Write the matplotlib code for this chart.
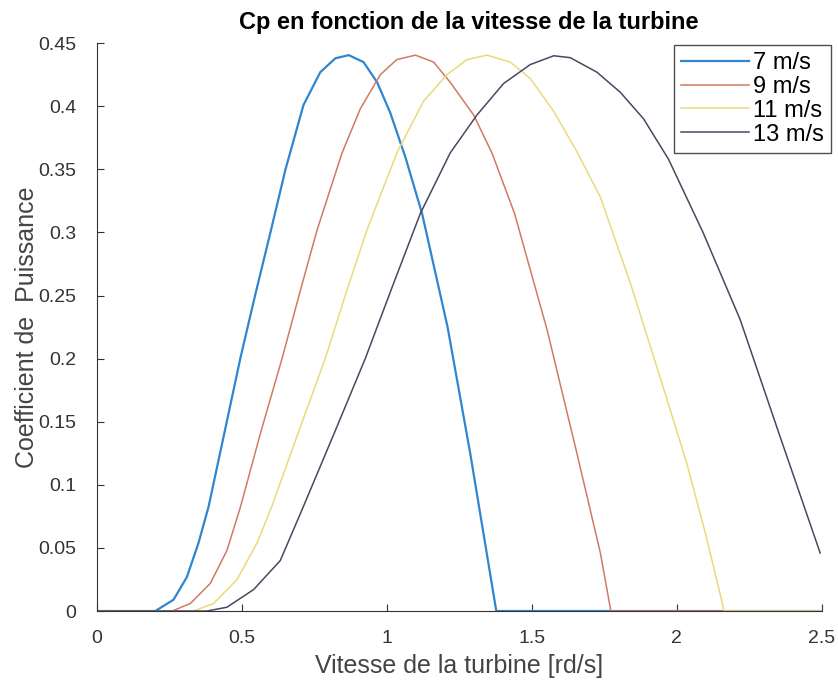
import numpy as np
import matplotlib
matplotlib.use('Agg')
import matplotlib.pyplot as plt
from matplotlib.ticker import FuncFormatter

plt.rcParams.update({
    'font.family': 'Liberation Sans', 'font.size': 13,
    'xtick.direction': 'in', 'ytick.direction': 'in',
})

# Cp curves (x in rd/s, y = Cp)
x_7 = [0, 0.201, 0.264, 0.310, 0.350, 0.385, 0.440, 0.494, 0.545, 0.598, 0.650,
       0.712, 0.770, 0.822, 0.868, 0.919, 0.966, 1.011, 1.063, 1.121, 1.209,
       1.287, 1.377, 2.5]
cp_7 = [0, 0, 0.009, 0.027, 0.054, 0.083, 0.142, 0.200, 0.250, 0.300, 0.350,
        0.401, 0.427, 0.438, 0.4405, 0.435, 0.419, 0.395, 0.360, 0.315, 0.225,
        0.125, 0, 0]

x_9 = [0, 0.259, 0.322, 0.391, 0.448, 0.494, 0.565, 0.638, 0.700, 0.759, 0.845,
       0.908, 0.977, 1.034, 1.098, 1.161, 1.218, 1.299, 1.362, 1.440, 1.552,
       1.655, 1.736, 1.772, 2.5]
cp_9 = [0, 0, 0.006, 0.022, 0.048, 0.082, 0.142, 0.200, 0.253, 0.302, 0.363,
        0.398, 0.425, 0.437, 0.4405, 0.435, 0.419, 0.393, 0.363, 0.315, 0.223,
        0.125, 0.046, 0, 0]

x_11 = [0, 0.333, 0.402, 0.483, 0.552, 0.603, 0.695, 0.787, 0.860, 0.931, 1.034,
        1.126, 1.207, 1.276, 1.345, 1.425, 1.494, 1.575, 1.655, 1.736, 1.839,
        1.879, 1.960, 2.034, 2.100, 2.163, 2.5]
cp_11 = [0, 0, 0.006, 0.025, 0.054, 0.083, 0.142, 0.200, 0.253, 0.302, 0.363,
         0.404, 0.425, 0.437, 0.4405, 0.435, 0.422, 0.396, 0.364, 0.328, 0.260,
         0.231, 0.172, 0.117, 0.060, 0, 0]

x_13 = [0, 0.379, 0.448, 0.540, 0.632, 0.712, 0.820, 0.925, 1.020, 1.115, 1.218,
        1.310, 1.402, 1.494, 1.575, 1.632, 1.724, 1.805, 1.885, 1.971, 2.090,
        2.218, 2.356, 2.494]
cp_13 = [0, 0, 0.003, 0.017, 0.040, 0.083, 0.142, 0.200, 0.258, 0.315, 0.363,
         0.393, 0.418, 0.433, 0.440, 0.4385, 0.427, 0.411, 0.390, 0.358, 0.300,
         0.231, 0.138, 0.046]

labels = ['7 m/s', '9 m/s', '11 m/s', '13 m/s']
colors = ['#2f86d0', '#cf7a62', '#ecd97a', '#4f4560']

fig = plt.figure(figsize=(8.38, 6.85), dpi=100)
ax = fig.add_axes([0.1158, 0.108, 0.865, 0.829])

series = [(x_7, cp_7), (x_9, cp_9), (x_11, cp_11), (x_13, cp_13)]
for (xs, ys), lab, c in zip(series, labels, colors):
    lw = 1.6 if lab == '7 m/s' else 1.1
    ax.plot(xs, ys, color=c, linewidth=lw, label=lab)

ax.set_xlim(0, 2.5)
ax.set_ylim(0, 0.45)
ax.set_xticks(np.arange(0, 2.51, 0.5))
ax.set_yticks(np.arange(0, 0.451, 0.05))
fmt = FuncFormatter(lambda v, p: f'{v:g}')
ax.xaxis.set_major_formatter(fmt)
ax.yaxis.set_major_formatter(fmt)
ax.tick_params(colors='#333333', labelsize=14, length=5)
ax.tick_params(axis='y', pad=15)
ax.tick_params(axis='x', pad=14)

for s in ['top', 'right']:
    ax.spines[s].set_visible(False)
for s in ['left', 'bottom']:
    ax.spines[s].set_color('#333333')

ax.set_title('Cp en fonction de la vitesse de la turbine', fontweight='bold',
             fontsize=17, pad=10, x=0.513)
ax.set_xlabel('Vitesse de la turbine [rd/s]', fontsize=18, color='#444444',
              labelpad=5)
ax.set_ylabel('Coefficient de  Puissance', fontsize=18, color='#444444',
              labelpad=-1)

leg = ax.legend(loc='upper right', bbox_to_anchor=(1.012, 0.997), fontsize=17,
                frameon=True, fancybox=False, handlelength=2.9,
                handletextpad=0.15, labelspacing=0.08, borderpad=0.3,
                borderaxespad=0.0)
leg.get_frame().set_edgecolor('#222222')
leg.get_frame().set_linewidth(1.0)

plt.savefig('out.png', dpi=100)
